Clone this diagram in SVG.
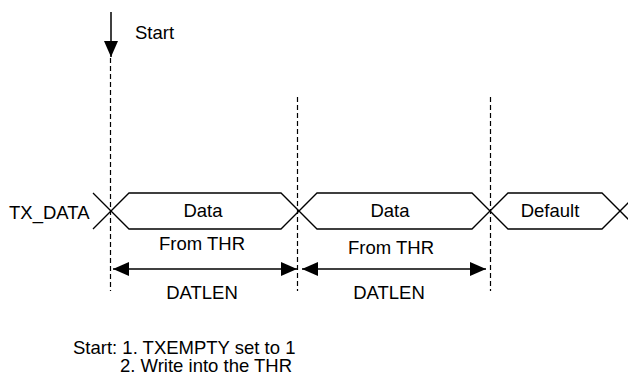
<svg xmlns="http://www.w3.org/2000/svg" width="628" height="374" viewBox="0 0 628 374">
<defs>
<style>
text{font-family:"Liberation Sans",Arial,sans-serif;font-size:18.5px;fill:#000}
.mid{text-anchor:middle}
.sig{fill:none;stroke:#000;stroke-width:1.3}
.dash{fill:none;stroke:#000;stroke-width:1.2;stroke-dasharray:5,3}
.arr{fill:none;stroke:#000;stroke-width:1.5}
</style>
<marker id="ah" viewBox="0 0 16 14" refX="16" refY="7" markerWidth="16" markerHeight="14" markerUnits="userSpaceOnUse" orient="auto-start-reverse">
<path d="M0,0 L16,7 L0,14 Z" fill="#000"/>
</marker>
</defs>
<rect width="628" height="374" fill="#fff"/>
<g id="start-marker">
<line class="arr" x1="111" y1="12" x2="111" y2="57" marker-end="url(#ah)"/>
<text x="135" y="39">Start</text>
</g>
<g id="connectors">
<line class="dash" x1="110.5" y1="58" x2="110.5" y2="291"/>
<line class="dash" x1="297.5" y1="97" x2="297.5" y2="291"/>
<line class="dash" x1="490.5" y1="97" x2="490.5" y2="291"/>
<line class="arr" x1="113" y1="269" x2="297" y2="269" marker-start="url(#ah)" marker-end="url(#ah)"/>
<line class="arr" x1="302" y1="269" x2="486" y2="269" marker-start="url(#ah)" marker-end="url(#ah)"/>
</g>
<g id="tx-data-label">
<text x="9" y="219">TX_DATA</text>
</g>
<g id="signal">
<path class="sig" d="M93,193 L129,229 L281,229 L317,193 L472,193 L508,229 L602,229 L638,193"/>
<path class="sig" d="M93,229 L129,193 L281,193 L317,229 L472,229 L508,193 L602,193 L638,229"/>
</g>
<g id="data1">
<text class="mid" x="203" y="217">Data</text>
<text class="mid" x="202" y="250">From THR</text>
<text class="mid" x="202" y="299">DATLEN</text>
</g>
<g id="data2">
<text class="mid" x="390" y="217">Data</text>
<text class="mid" x="391" y="254">From THR</text>
<text class="mid" x="389" y="299">DATLEN</text>
</g>
<g id="default">
<text class="mid" x="550" y="217">Default</text>
</g>
<g id="notes">
<text x="73" y="354">Start: 1. TXEMPTY set to 1</text>
<text x="120" y="372">2. Write into the THR</text>
</g>
</svg>
